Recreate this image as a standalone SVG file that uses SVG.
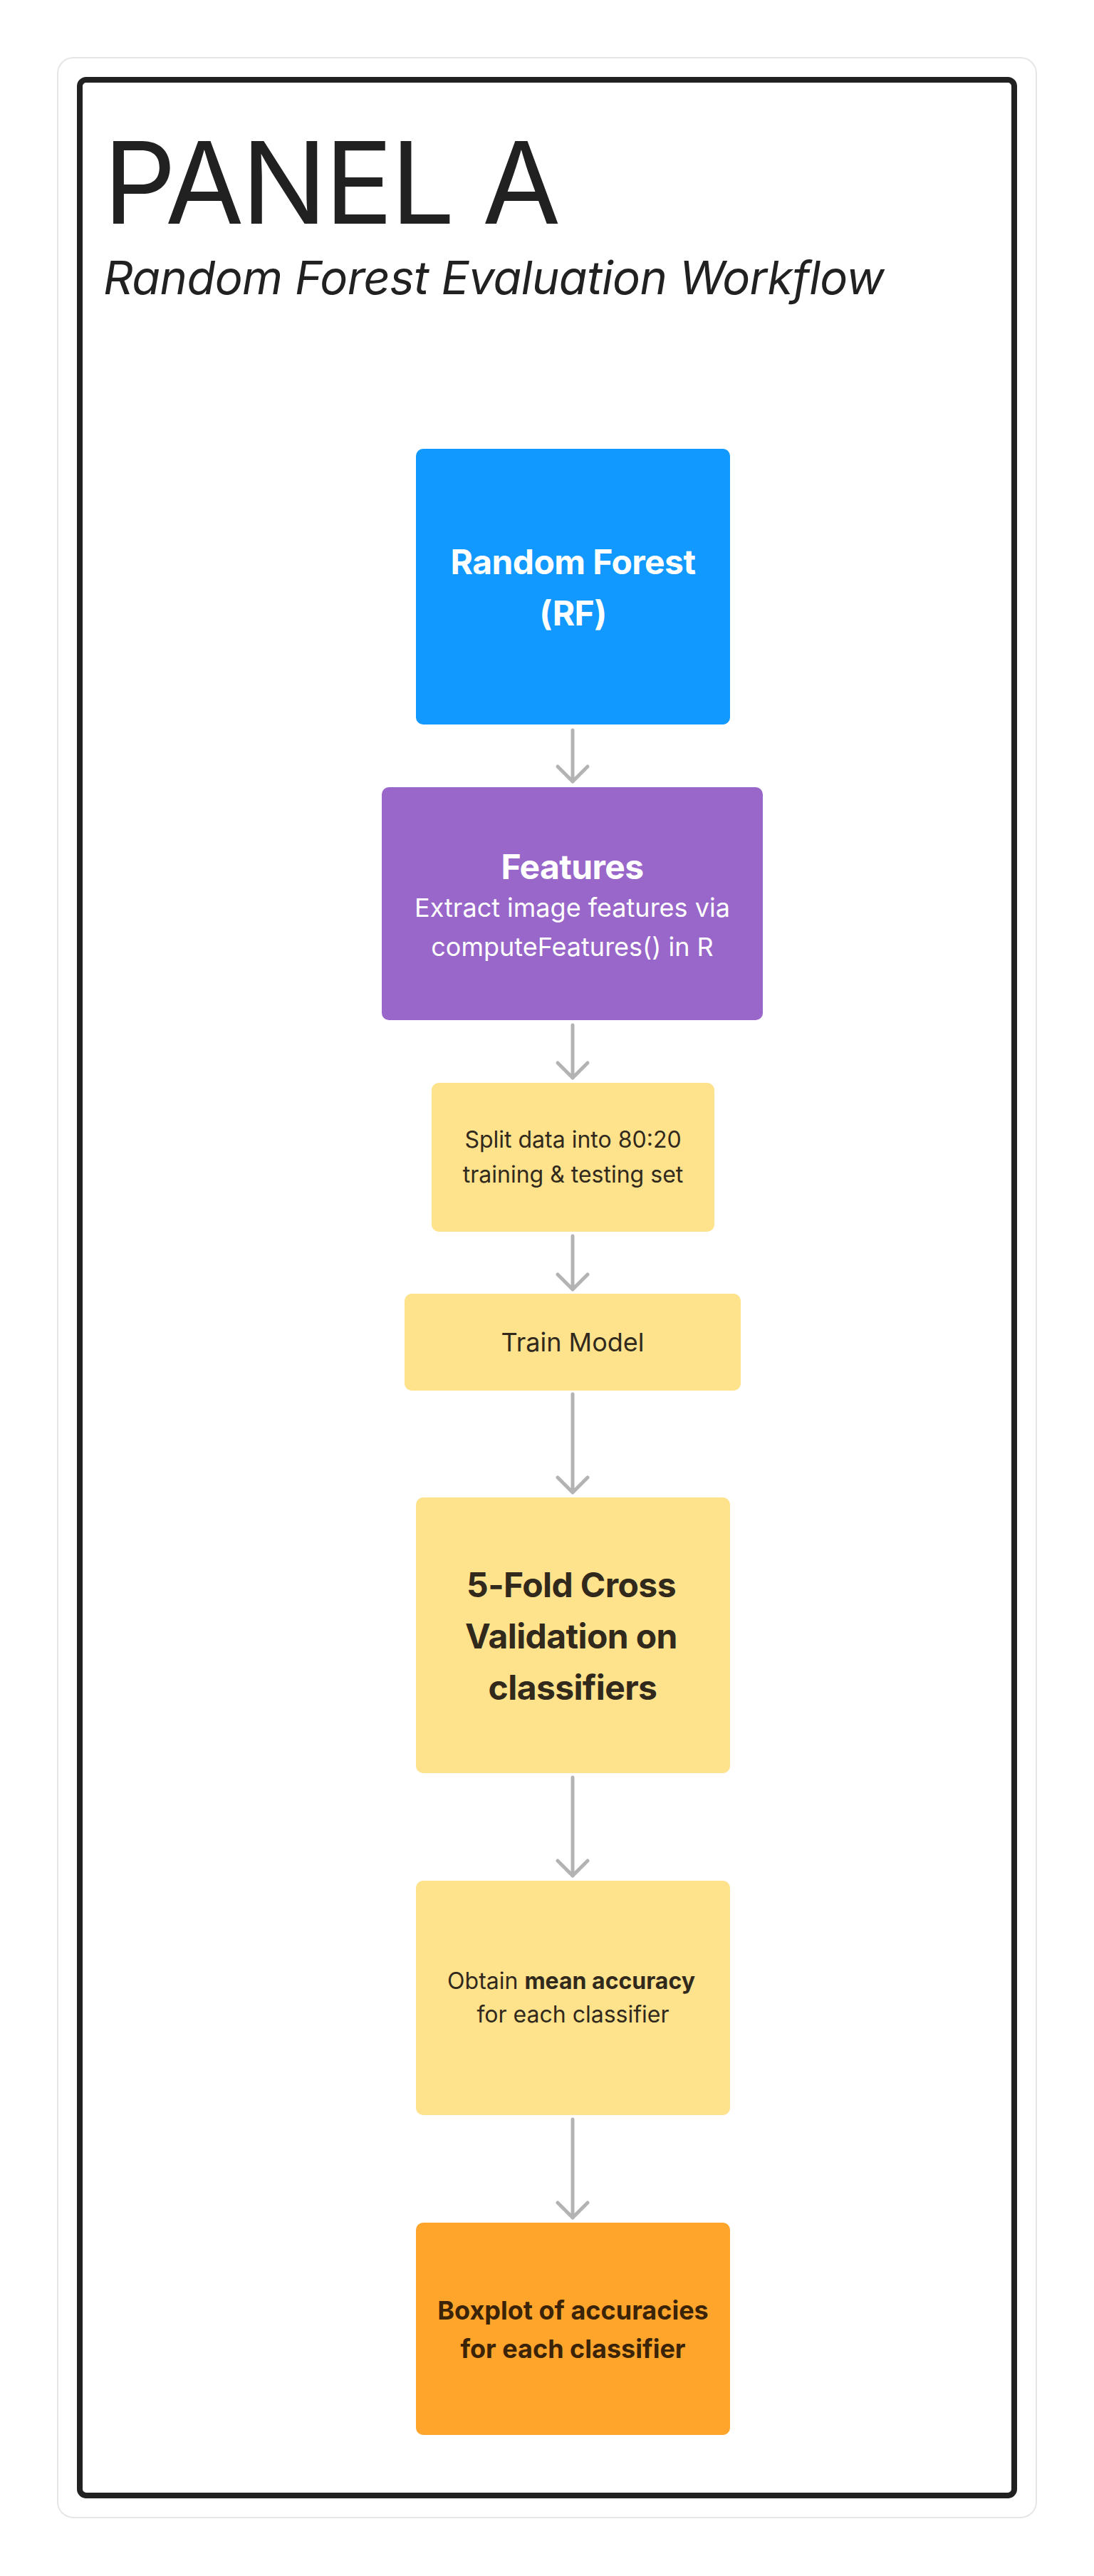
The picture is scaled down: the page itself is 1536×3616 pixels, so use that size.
<svg xmlns="http://www.w3.org/2000/svg" width="1536" height="3616" viewBox="0 0 1536 3616">
<defs>
<style>
.t{font-family:Inter,"Liberation Sans",sans-serif;text-anchor:middle}
.w{fill:#ffffff}
.dk{fill:#30291c}
.b{font-weight:700}
.h{letter-spacing:-0.6px}
.conn{stroke:#b3b3b3;stroke-width:5;fill:none;stroke-linecap:round;stroke-linejoin:round}
</style>
</defs>
<rect width="1536" height="3616" fill="#ffffff"/>
<rect x="81" y="81" width="1374" height="3453" rx="22" fill="#ffffff" stroke="#e6e6e6" stroke-width="2"/>
<rect x="112" y="112" width="1312" height="3391" rx="9" fill="#ffffff" stroke="#212121" stroke-width="8"/>
<g id="title">
<text x="145" y="314" font-family="Inter,'Liberation Sans',sans-serif" font-size="160" letter-spacing="-3.5" fill="#212121">PANEL A</text>
<text x="145" y="413" font-family="Inter,'Liberation Sans',sans-serif" font-size="65" font-style="italic" letter-spacing="-0.6" fill="#212121">Random Forest Evaluation Workflow</text>
</g>
<g id="connectors">
<path class="conn" d="M804 1025V1097M783 1076L804 1097L825 1076"/>
<path class="conn" d="M804 1439V1513M783 1492L804 1513L825 1492"/>
<path class="conn" d="M804 1735V1810M783 1789L804 1810L825 1789"/>
<path class="conn" d="M804 1957V2095M783 2074L804 2095L825 2074"/>
<path class="conn" d="M804 2495V2633M783 2612L804 2633L825 2612"/>
<path class="conn" d="M804 2975V3113M783 3092L804 3113L825 3092"/>
</g>
<g id="node-rf">
<rect x="584" y="630" width="441" height="387" rx="10" fill="#1199ff"/>
<text class="t w b h" x="804.5" y="806" font-size="48">Random Forest</text>
<text class="t w b h" x="804.5" y="878" font-size="48">(RF)</text>
</g>
<g id="node-features">
<rect x="536" y="1105" width="535" height="327" rx="10" fill="#9966c9"/>
<text class="t w b h" x="803.5" y="1234" font-size="48">Features</text>
<text class="t w" x="803.5" y="1287" font-size="36">Extract image features via</text>
<text class="t w" x="803.5" y="1342" font-size="36">computeFeatures() in R</text>
</g>
<g id="node-split">
<rect x="606" y="1520" width="397" height="209" rx="10" fill="#fee28c"/>
<text class="t dk" x="804.5" y="1611" font-size="32">Split data into 80:20</text>
<text class="t dk" x="804.5" y="1660" font-size="32">training &amp; testing set</text>
</g>
<g id="node-train">
<rect x="568" y="1816" width="472" height="136" rx="10" fill="#fee28c"/>
<text class="t dk" x="804" y="1897" font-size="36">Train Model</text>
</g>
<g id="node-cv">
<rect x="584" y="2102" width="441" height="387" rx="10" fill="#fee28c"/>
<text class="t dk b h" x="802" y="2242" font-size="48">5-Fold Cross</text>
<text class="t dk b h" x="802" y="2314" font-size="48">Validation on</text>
<text class="t dk b h" x="804" y="2386" font-size="48">classifiers</text>
</g>
<g id="node-mean">
<rect x="584" y="2640" width="441" height="329" rx="10" fill="#fee28c"/>
<text class="t dk" x="802" y="2792" font-size="32">Obtain <tspan font-weight="700">mean accuracy</tspan></text>
<text class="t dk" x="804.5" y="2839" font-size="32">for each classifier</text>
</g>
<g id="node-boxplot">
<rect x="584" y="3120" width="441" height="298" rx="10" fill="#ffa52b"/>
<text class="t b" x="804.5" y="3256" font-size="36" fill="#3a2306">Boxplot of accuracies</text>
<text class="t b" x="804.5" y="3310" font-size="36" fill="#3a2306">for each classifier</text>
</g>
</svg>
